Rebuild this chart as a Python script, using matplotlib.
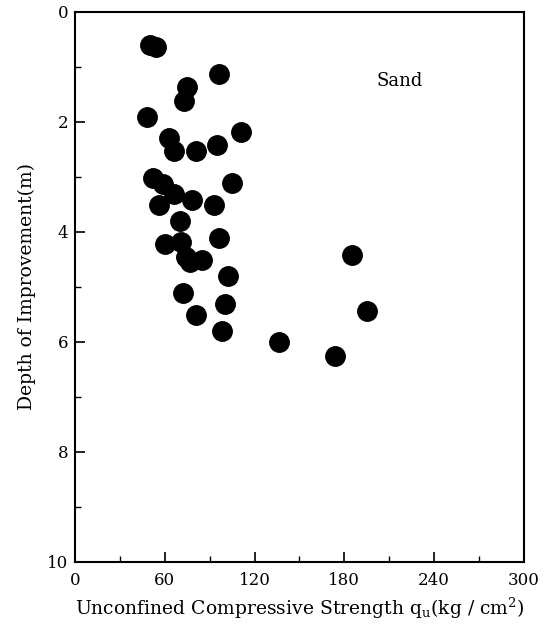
import matplotlib
matplotlib.use('agg')
from matplotlib import pyplot as plt
from matplotlib.ticker import MultipleLocator

# unconfined compressive strength qu (kg/cm2) vs depth of improvement (m), sand
qu = [50, 54, 96, 75, 73, 48, 111, 63, 66, 81, 95,
      52, 59, 66, 78, 56, 93, 105, 70, 60, 71, 96,
      74, 77, 85, 102, 72, 100, 81, 98,
      185, 195, 136, 174]
depth = [0.60, 0.63, 1.13, 1.36, 1.62, 1.92, 2.19, 2.30, 2.53, 2.53, 2.42,
         3.02, 3.13, 3.32, 3.42, 3.52, 3.52, 3.12, 3.81, 4.22, 4.18, 4.12,
         4.45, 4.54, 4.51, 4.81, 5.11, 5.31, 5.51, 5.81,
         4.42, 5.43, 6.01, 6.25]
x_ticks = [0, 60, 120, 180, 240, 300]
y_ticks = [0, 2, 4, 6, 8, 10]

plt.rcParams['font.family'] = ['DejaVu Serif']
plt.rcParams['mathtext.fontset'] = 'dejavuserif'

fig = plt.figure(figsize=(5.48, 6.25), dpi=100)
ax = fig.add_axes([0.137, 0.101, 0.819, 0.880])

ax.plot(qu, depth, 'o', color='black', markersize=14, linestyle='none')

ax.set_xlim(0, 300)
ax.set_ylim(10, 0)
ax.set_xticks(x_ticks)
ax.set_yticks(y_ticks)
ax.xaxis.set_minor_locator(MultipleLocator(30))
ax.yaxis.set_minor_locator(MultipleLocator(1))
ax.tick_params(which='major', direction='in', length=7, width=1.2, labelsize=12)
ax.tick_params(axis='x', which='major', pad=7)
ax.tick_params(axis='y', which='major', pad=5)
ax.tick_params(which='minor', direction='in', length=4, width=1.0)
for s in ax.spines.values():
    s.set_linewidth(1.5)

ax.text(217, 1.25, 'Sand', fontsize=13, ha='center', va='center')
ax.set_xlabel('Unconfined Compressive Strength $\\mathregular{q_u}$(kg / cm$^\\mathregular{2}$)',
              fontsize=13.5, labelpad=5)
ax.set_ylabel('Depth of Improvement(m)', fontsize=13.5, labelpad=8)

plt.savefig('out.png', dpi=100)
